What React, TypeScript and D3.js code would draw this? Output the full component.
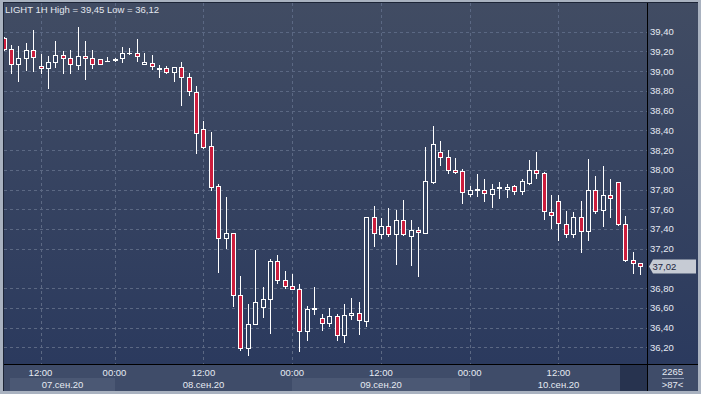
import React from "react";
import * as d3 from "d3";

const OPEN = [39.34,39.22,39.07,39.13,39.21,39.05,39.03,39.09,39.16,39.13,39.06,39.15,39.13,39.12,39.10,39.11,39.13,39.18,39.18,39.07,39.08,39.03,39.03,38.99,39.04,38.94,38.79,38.41,38.24,37.84,37.305,37.36,36.73,36.19,36.44,36.61,36.69,37.07,36.88,36.82,36.79,36.37,36.59,36.50,36.45,36.52,36.32,36.53,36.55,36.47,37.52,37.35,37.43,37.35,37.49,37.33,37.385,37.36,37.88,38.18,38.13,38.00,37.99,37.75,37.80,37.80,37.75,37.82,37.81,37.84,37.78,37.87,38.00,37.97,37.57,37.68,37.45,37.35,37.52,37.38,37.80,37.59,37.74,37.88,37.45,37.09,37.05];
const HIGH = [39.35,39.265,39.25,39.29,39.42,39.17,39.15,39.31,39.20,39.21,39.45,39.31,39.21,39.12,39.14,39.13,39.24,39.23,39.33,39.18,39.16,39.06,39.05,39.04,39.09,38.98,38.85,38.49,38.38,37.86,37.72,37.36,36.92,36.64,37.19,36.81,37.10,37.14,36.97,36.94,36.84,36.62,36.81,36.54,36.60,36.54,36.64,36.70,36.66,37.52,37.63,37.51,37.61,37.59,37.69,37.49,37.42,38.23,38.44,38.29,38.20,38.12,38.01,37.84,37.96,37.91,37.86,37.88,37.86,37.85,37.91,38.10,38.18,37.98,37.74,37.74,37.58,37.57,37.68,38.11,37.94,38.04,37.91,37.88,37.53,37.17,37.05];
const LOW = [39.21,38.98,38.90,39.01,39.00,38.98,38.83,39.04,38.98,38.98,39.02,38.92,39.03,39.07,39.10,39.10,39.09,39.17,39.10,39.07,39.02,38.94,38.98,38.90,38.66,38.76,38.17,38.22,37.79,36.96,37.21,36.62,36.17,36.12,36.44,36.51,36.35,36.85,36.80,36.79,36.16,36.27,36.54,36.38,36.42,36.27,36.25,36.49,36.33,36.42,37.23,37.31,37.33,37.04,37.34,37.03,36.92,37.36,37.87,38.05,37.97,37.97,37.66,37.73,37.73,37.68,37.62,37.71,37.72,37.75,37.75,37.86,37.92,37.50,37.41,37.29,37.32,37.32,37.17,37.29,37.56,37.43,37.52,37.44,37.07,36.95,36.94];
const CLOSE = [39.22,39.07,39.13,39.21,39.14,39.03,39.09,39.16,39.13,39.07,39.15,39.13,39.07,39.07,39.10,39.125,39.18,39.185,39.15,39.09,39.05,39.025,38.99,39.04,38.94,38.80,38.37,38.23,37.83,37.31,37.36,36.73,36.19,36.44,36.66,36.69,37.07,36.88,36.82,36.79,36.37,36.59,36.595,36.45,36.52,36.32,36.53,36.55,36.48,37.52,37.36,37.43,37.35,37.49,37.35,37.39,37.365,37.89,38.26,38.13,38.00,37.98,37.77,37.80,37.805,37.76,37.81,37.825,37.83,37.78,37.89,38.00,37.97,37.58,37.54,37.46,37.35,37.52,37.38,37.80,37.58,37.74,37.71,37.45,37.09,37.05,37.02];

const PRICE_TICKS = [36.2,36.4,36.6,36.8,37.0,37.2,37.4,37.6,37.8,38.0,38.2,38.4,38.6,38.8,39.0,39.2,39.4].filter(v => Math.abs(v - 37.0) > 1e-9);
const TIME_TICK_INDEX = [5, 15, 27, 39, 51, 63, 75];
const TIME_TICK_LABELS = ["12:00", "00:00", "12:00", "00:00", "12:00", "00:00", "12:00"];
const DAY_LABELS = ["07.сен.20", "08.сен.20", "09.сен.20", "10.сен.20"];
const DAY_START_INDEX = [-0.9, 15, 39, 63];
const TITLE = "LIGHT 1H High = 39,45 Low = 36,12";
const LAST_PRICE = 37.02;
const VOLUME_TEXT = "2265";
const COUNT_TEXT = ">87<";

const W = 701, H = 394;
const PL = 4, PR = 647, PT = 3, PB = 364;
const FONT = "'Liberation Sans', Arial, sans-serif";
const fmt = (v: number) => v.toFixed(2).replace(".", ",");

export default function App() {
  const x = d3.scaleLinear().domain([0, 86]).range([3.5, 639.9]);
  const y = d3.scaleLinear().domain([36.2, 39.4]).range([347.3, 31.7]);
  const red = "#cc1d3d";
  const gridC = "#5b6883";
  const bandX = (i: number) => (i < 0 ? 10 : Math.round(x(i)));
  const dayEnds = [15, 39, 63, 86];
  return (
    <svg width={W} height={H} style={{ position: "absolute", left: 0, top: 0 }} fontFamily={FONT}>
      <defs>
        <linearGradient id="bg" x1="0" y1="0" x2="0" y2="1">
          <stop offset="0" stopColor="#414c63" />
          <stop offset="1" stopColor="#2b3a5e" />
        </linearGradient>
        <clipPath id="plot">
          <rect x={PL} y={PT} width={PR - PL} height={PB - PT} />
        </clipPath>
      </defs>
      <rect x={0} y={0} width={W} height={H} fill="#a9b2c0" />
      <rect x={3} y={2} width={W - 6} height={H - 5} fill="#1c2436" />
      <rect x={PL} y={PT} width={698 - PL} height={PB - PT} fill="url(#bg)" />
      {/* bottom axis */}
      <rect x={PL} y={PB + 1} width={698 - PL} height={391 - PB - 1} fill="#3f4c69" />
      {DAY_LABELS.map((d, k) => (k % 2 === 0 ? (
        <rect key={"b" + k} x={bandX(DAY_START_INDEX[k])} y={378} width={Math.round(x(dayEnds[k])) - bandX(DAY_START_INDEX[k])} height={13} fill="#4b5874" />
      ) : null))}
      <rect x={620} y={PB + 1} width={PR - 620} height={391 - PB - 1} fill="#27334f" />
      <g clipPath="url(#plot)" shapeRendering="crispEdges">
        {PRICE_TICKS.map(v => (
          <line key={"h" + v} x1={PL} x2={PR} y1={Math.round(y(v)) + 0.5} y2={Math.round(y(v)) + 0.5} stroke={gridC} strokeDasharray="3,3" />
        ))}
        {TIME_TICK_INDEX.map(i => (
          <line key={"v" + i} x1={Math.round(x(i)) + 0.5} x2={Math.round(x(i)) + 0.5} y1={PT} y2={PB} stroke={gridC} strokeDasharray="3,3" />
        ))}
        {OPEN.map((o, i) => {
          const c = CLOSE[i];
          const cx = Math.round(x(i)) + 0.5;
          const yt = Math.round(y(Math.max(o, c)));
          const yb = Math.round(y(Math.min(o, c)));
          const bear = c < o;
          return (
            <g key={"c" + i}>
              <line x1={cx} x2={cx} y1={Math.round(y(HIGH[i]))} y2={Math.round(y(LOW[i])) + 1} stroke="#ffffff" />
              {yb - yt >= 1 ? (
                <rect x={cx - 2} y={yt + 0.5} width={4} height={yb - yt} fill={bear ? red : "#33415f"} stroke="#ffffff" />
              ) : (
                <line x1={cx - 2.5} x2={cx + 2.5} y1={yt + 0.5} y2={yt + 0.5} stroke="#ffffff" />
              )}
            </g>
          );
        })}
      </g>
      {/* separators */}
      <line x1={PL} x2={698} y1={PB + 0.5} y2={PB + 0.5} stroke="#000" shapeRendering="crispEdges" />
      <line x1={PR + 0.5} x2={PR + 0.5} y1={PT} y2={391} stroke="#000" shapeRendering="crispEdges" />
      {/* title */}
      <text x={5} y={13} fontSize={9.5} fill="#e3e7ef">{TITLE}</text>
      {/* price axis */}
      {PRICE_TICKS.map(v => (
        <text key={"t" + v} x={650} y={y(v) + 3.5} fontSize={9.5} fill="#e6eaf2">{fmt(v)}</text>
      ))}
      <path d={`M649,${y(LAST_PRICE)} L653,${y(LAST_PRICE) - 7} L696,${y(LAST_PRICE) - 7} L696,${y(LAST_PRICE) + 7} L653,${y(LAST_PRICE) + 7} Z`} fill="#c6cbd4" />
      <text x={652.5} y={y(LAST_PRICE) + 3.5} fontSize={9.5} fill="#1c2640">{fmt(LAST_PRICE)}</text>
      {/* time axis */}
      {TIME_TICK_INDEX.map((i, k) => (
        <text key={"tt" + k} x={x(i)} y={375.5} fontSize={9.5} fill="#e6eaf2" textAnchor="middle">{TIME_TICK_LABELS[k]}</text>
      ))}
      {DAY_LABELS.map((d, k) => {
        const a = bandX(DAY_START_INDEX[k]);
        const b = k === 3 ? PR : Math.round(x(dayEnds[k]));
        return <text key={"d" + k} x={(a + b) / 2} y={387.5} fontSize={9.5} fill="#e6eaf2" textAnchor="middle">{d}</text>;
      })}
      <text x={672.5} y={375} fontSize={9.5} fill="#e6eaf2" textAnchor="middle">{VOLUME_TEXT}</text>
      <line x1={662} x2={684} y1={378.5} y2={378.5} stroke="#8f9ab0" />
      <text x={672.5} y={387.5} fontSize={9.5} fill="#e6eaf2" textAnchor="middle">{COUNT_TEXT}</text>
    </svg>
  );
}
